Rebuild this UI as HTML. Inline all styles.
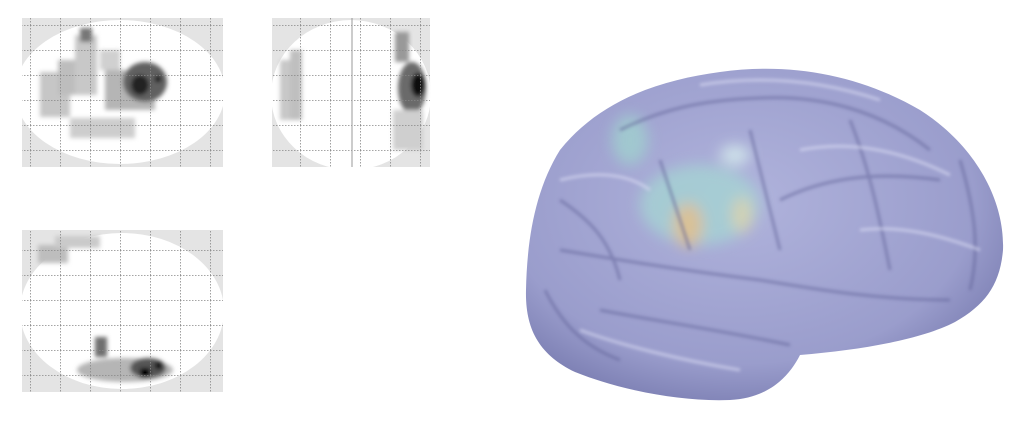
<!DOCTYPE html>
<html><head><meta charset="utf-8"><style>
html,body{margin:0;padding:0;background:#fff;width:1033px;height:425px;overflow:hidden}
</style></head><body>
<svg width="1033" height="425" viewBox="0 0 1033 425" xmlns="http://www.w3.org/2000/svg">
<defs>
<filter id="bl" x="-20%" y="-20%" width="140%" height="140%"><feGaussianBlur stdDeviation="2"/></filter>
<filter id="bl2" x="-20%" y="-20%" width="140%" height="140%"><feGaussianBlur stdDeviation="7"/></filter>
<filter id="bl3"><feGaussianBlur stdDeviation="1.5"/></filter>
<radialGradient id="br" cx="0.45" cy="0.4" r="0.7">
<stop offset="0" stop-color="#b0b3dc"/><stop offset="0.7" stop-color="#9a9dcc"/><stop offset="1" stop-color="#6f72a8"/></radialGradient>
<pattern id="grid1" width="30" height="25" patternUnits="userSpaceOnUse"><path d="M0 0.5H30M0.5 0V25" stroke="#888" stroke-width="0.8" stroke-dasharray="1.5,1.5" fill="none"/></pattern>
</defs>

<g>
<rect x="22" y="18" width="201" height="149" fill="#e4e4e4"/>
<ellipse cx="120" cy="92" rx="105" ry="72" fill="#fff"/>
<g filter="url(#bl)">
<rect x="40" y="72" width="30" height="45" fill="#c6c6c6"/>
<rect x="58" y="60" width="35" height="35" fill="#bdbdbd"/>
<rect x="75" y="35" width="22" height="60" fill="#c8c8c8"/>
<rect x="80" y="28" width="12" height="14" fill="#777"/>
<rect x="105" y="70" width="50" height="40" fill="#b5b5b5"/>
<rect x="70" y="118" width="65" height="20" fill="#cdcdcd"/>
<rect x="100" y="50" width="20" height="20" fill="#d0d0d0"/>
<ellipse cx="145" cy="82" rx="22" ry="20" fill="#606060"/>
<ellipse cx="140" cy="85" rx="9" ry="10" fill="#222"/>
<rect x="155" y="76" width="6" height="6" fill="#000"/>
</g>
<rect x="22" y="18" width="201" height="149" fill="url(#grid1)"/>
</g>

<g>
<rect x="272" y="18" width="158" height="149" fill="#e4e4e4"/>
<ellipse cx="351" cy="95" rx="80" ry="75" fill="#fff"/>
<g filter="url(#bl)">
<rect x="280" y="60" width="22" height="60" fill="#c8c8c8"/>
<rect x="290" y="50" width="12" height="70" fill="#bfbfbf"/>
<rect x="395" y="32" width="14" height="30" fill="#999"/>
<ellipse cx="412" cy="88" rx="14" ry="26" fill="#6a6a6a"/>
<ellipse cx="418" cy="85" rx="7" ry="12" fill="#111"/>
<rect x="393" y="110" width="30" height="40" fill="#cfcfcf"/>
</g>
<rect x="272" y="18" width="158" height="149" fill="url(#grid1)"/>
<line x1="352" y1="18" x2="352" y2="167" stroke="#999" stroke-width="1"/>
</g>

<g>
<rect x="22" y="230" width="201" height="162" fill="#e4e4e4"/>
<ellipse cx="122" cy="311" rx="102" ry="78" fill="#fff"/>
<g filter="url(#bl)">
<rect x="38" y="245" width="30" height="18" fill="#bdbdbd"/>
<rect x="55" y="236" width="45" height="12" fill="#cacaca"/>
<ellipse cx="125" cy="370" rx="48" ry="12" fill="#b5b5b5"/>
<rect x="95" y="337" width="12" height="20" fill="#707070"/>
<ellipse cx="148" cy="368" rx="18" ry="10" fill="#555"/>
<rect x="140" y="368" width="10" height="10" fill="#000"/>
<rect x="155" y="362" width="7" height="7" fill="#000"/>
</g>
<rect x="22" y="230" width="201" height="162" fill="url(#grid1)"/>
</g>

<g>
<path d="M560 150 C600 100 660 80 720 72 C790 62 860 75 920 110 C975 145 1005 200 1003 250 C1000 285 985 305 955 322 C920 340 860 350 800 355 C790 375 770 398 730 400 C680 402 620 390 575 372 C540 355 525 330 526 290 C527 240 535 190 560 150 Z" fill="url(#br)"/>
<g filter="url(#bl2)" opacity="0.8">
<ellipse cx="700" cy="205" rx="60" ry="40" fill="#a5d3d3"/>
<ellipse cx="630" cy="140" rx="18" ry="25" fill="#a0d0cf"/>
<ellipse cx="688" cy="225" rx="15" ry="22" fill="#e5c686"/>
<ellipse cx="742" cy="215" rx="10" ry="18" fill="#dcdaa8"/>
<ellipse cx="735" cy="155" rx="15" ry="10" fill="#d8f0ee"/>
</g>
<g fill="none" stroke="#5d5f94" stroke-width="3" opacity="0.5" filter="url(#bl3)">
<path d="M620 130 C660 110 700 100 760 98 C820 95 880 110 930 150"/>
<path d="M780 200 C820 180 870 170 940 180"/>
<path d="M560 250 C620 260 680 270 760 280 C820 290 880 300 950 300"/>
<path d="M600 310 C650 320 720 330 790 345"/>
<path d="M660 160 C670 190 680 220 690 250"/>
<path d="M750 130 C760 170 770 210 780 250"/>
<path d="M850 120 C870 170 880 220 890 270"/>
<path d="M960 160 C975 210 980 250 970 290"/>
<path d="M560 200 C590 220 610 240 620 280"/>
<path d="M545 290 C560 320 580 345 620 360"/>
</g>
<g fill="none" stroke="#dcdef4" stroke-width="3" opacity="0.6" filter="url(#bl3)">
<path d="M700 85 C760 75 820 80 880 100"/>
<path d="M800 150 C850 140 900 150 950 175"/>
<path d="M580 330 C620 345 680 360 740 370"/>
<path d="M860 230 C900 225 940 235 980 250"/>
<path d="M560 180 C600 170 630 175 650 190"/>
</g>
</g>
</svg>
</body></html>
